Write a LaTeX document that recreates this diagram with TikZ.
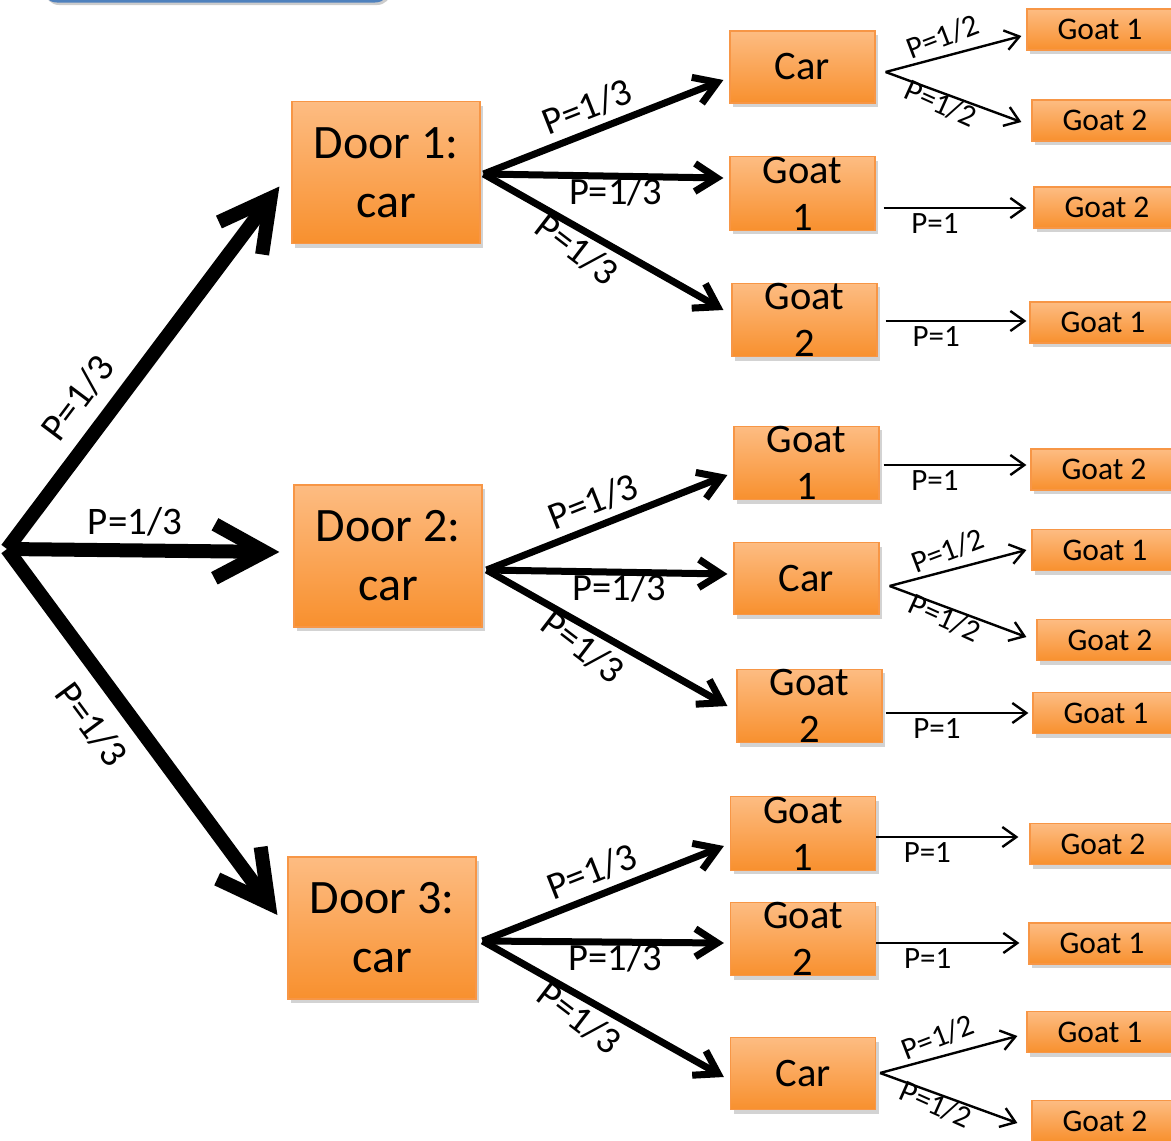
\documentclass[tikz,border=0pt]{standalone}
\usepackage{fontspec}
\setmainfont{Carlito}
\usetikzlibrary{arrows.meta,shadows,calc}
\definecolor{boxtop}{HTML}{FDBC82}
\definecolor{boxbot}{HTML}{F8902E}
\definecolor{boxline}{HTML}{F79646}
\definecolor{blueline}{HTML}{4F81BD}
\begin{document}
\begin{tikzpicture}[x=1pt,y=-1pt,
  box/.style={draw=boxline, line width=1.2pt, top color=boxtop, bottom color=boxbot,
    drop shadow={shadow xshift=3pt, shadow yshift=-4pt, opacity=0.35}, inner sep=0pt, align=center},
  door/.style={box, minimum width=188pt, minimum height=142pt, font=\fontsize{48}{59}\selectfont},
  mid/.style={box, minimum width=145pt, minimum height=72pt, font=\fontsize{40.5}{47}\selectfont},
  leaf/.style={box, minimum width=146pt, minimum height=41pt, font=\fontsize{31.5}{36}\selectfont},
  big/.style={line width=14pt, -{Straight Barb[length=50pt,width=54pt]}},
  med/.style={line width=7pt, -{Straight Barb[length=22pt,width=28pt]}},
  thin/.style={line width=2.4pt, -{Straight Barb[length=14pt,width=20pt]}},
  biglab/.style={font=\fontsize{39}{42}\selectfont, inner sep=2pt},
  medlab/.style={font=\fontsize{38.5}{42}\selectfont, inner sep=2pt},
  smlab/.style={font=\fontsize{31}{34}\selectfont, inner sep=2pt},
]
\useasboundingbox (0,0) rectangle (1171,1141);

% title shape, cut by the top edge
\node[draw=blueline, line width=3pt, rounded corners=14pt, fill=white,
  drop shadow={shadow xshift=2pt, shadow yshift=-4pt, opacity=0.4},
  minimum width=346pt, minimum height=80pt, inner sep=0pt] (title) at (216,-39) {};

% doors
\node[door] (d1) at (386,172.5) {Door 1:\\car};
\node[door] (d2) at (388,556) {Door 2:\\car};
\node[door] (d3) at (382,928) {Door 3:\\car};

% second level
\node[mid] (car1) at (802.5,67) {Car};
\node[mid] (g11) at (802.5,193.5) {Goat\\1};
\node[mid] (g12) at (804.5,320) {Goat\\2};
\node[mid] (g21) at (806.5,463) {Goat\\1};
\node[mid] (car2) at (806.5,578.5) {Car};
\node[mid] (g22) at (809.5,706) {Goat\\2};
\node[mid] (g31) at (803,833.5) {Goat\\1};
\node[mid] (g32) at (803,939) {Goat\\2};
\node[mid] (car3) at (803,1073.5) {Car};

% leaves
\node[leaf] (t1) at (1100,29.5) {Goat 1};
\node[leaf] (t2) at (1105,120.5) {Goat 2};
\node[leaf] (t3) at (1107,207.5) {Goat 2};
\node[leaf] (t4) at (1103,322.5) {Goat 1};
\node[leaf] (t5) at (1104,469.5) {Goat 2};
\node[leaf] (t6) at (1105,550) {Goat 1};
\node[leaf] (t7) at (1110,640) {Goat 2};
\node[leaf] (t8) at (1106,713) {Goat 1};
\node[leaf] (t9) at (1103,844) {Goat 2};
\node[leaf] (t10) at (1102,943.5) {Goat 1};
\node[leaf] (t11) at (1100,1032) {Goat 1};
\node[leaf] (t12) at (1105,1121) {Goat 2};

% root arrows
\coordinate (root) at (7,549);
\draw[big] (root) -- ($(d1.west)+(-12,14)$) node[biglab, sloped, above=11pt, pos=0.36] {P=1/3};
\draw[big] (root) -- ($(d2.west)+(-14,-4)$) node[biglab, above=5pt, pos=0.47] {P=1/3};
\draw[big] (root) -- ($(d3.west)+(-10,-13)$) node[biglab, sloped, below=13pt, pos=0.42] {P=1/3};

% door 1
\coordinate (o1) at ($(d1.east)+(3,1.5)$);
\draw[med] (o1) -- ($(car1.west)+(-6,13)$) node[medlab, sloped, above=5pt, pos=0.47] {P=1/3};
\draw[med] (o1) -- ($(g11.west)+(-6,-15.5)$) node[medlab, below=-4pt, pos=0.55] {P=1/3};
\draw[med] (o1) -- ($(g12.west)+(-8,-10)$) node[medlab, sloped, below=0pt, pos=0.44, rotate=-8] {P=1/3};

% door 2
\coordinate (o2) at ($(d2.east)+(4,14)$);
\draw[med] (o2) -- ($(g21.west)+(-6,12)$) node[medlab, sloped, above=5pt, pos=0.48] {P=1/3};
\draw[med] (o2) -- ($(car2.west)+(-6,-4.5)$) node[medlab, below=-4pt, pos=0.55] {P=1/3};
\draw[med] (o2) -- ($(g22.west)+(-9,0)$) node[medlab, sloped, below=0pt, pos=0.45, rotate=-8] {P=1/3};

% door 3
\coordinate (o3) at ($(d3.east)+(6,13)$);
\draw[med] (o3) -- ($(g31.west)+(-6,12.5)$) node[medlab, sloped, above=5pt, pos=0.49] {P=1/3};
\draw[med] (o3) -- ($(g32.west)+(-6,4)$) node[medlab, below=-4pt, pos=0.55] {P=1/3};
\draw[med] (o3) -- ($(car3.west)+(-6,3.5)$) node[medlab, sloped, below=0pt, pos=0.45, rotate=-8] {P=1/3};

% third level
\coordinate (c1) at ($(car1.east)+(10,5)$);
\draw[thin] (c1) -- ($(t1.west)+(-5,6.5)$) node[smlab, sloped, above=5pt, pos=0.47, rotate=6] {P=1/2};
\draw[thin] (c1) -- ($(t2.west)+(-10,1.5)$) node[smlab, sloped, below=-4pt, pos=0.44, rotate=-4] {P=1/2};
\draw[thin] ($(g11.east)+(8,14.5)$) -- ($(t3.west)+(-7,0.5)$) node[smlab, below=2pt, pos=0.36] {P=1};
\draw[thin] ($(g12.east)+(8,1)$) -- ($(t4.west)+(-3,-1.5)$) node[smlab, below=2pt, pos=0.36] {P=1};

\draw[thin] ($(g21.east)+(4,2)$) -- ($(t5.west)+(-4,-4.5)$) node[smlab, below=2pt, pos=0.36] {P=1};
\coordinate (c2) at ($(car2.east)+(10,7.5)$);
\draw[thin] (c2) -- ($(t6.west)+(-5,0)$) node[smlab, sloped, above=5pt, pos=0.47, rotate=6] {P=1/2};
\draw[thin] (c2) -- ($(t7.west)+(-10,-3)$) node[smlab, sloped, below=-4pt, pos=0.44, rotate=-4] {P=1/2};
\draw[thin] ($(g22.east)+(3,7)$) -- ($(t8.west)+(-4,0)$) node[smlab, below=2pt, pos=0.36] {P=1};

\draw[thin] ($(g31.east)+(0,3.5)$) -- ($(t9.west)+(-11,-7)$) node[smlab, below=2pt, pos=0.36] {P=1};
\draw[thin] ($(g32.east)+(0,4)$) -- ($(t10.west)+(-9,-0.5)$) node[smlab, below=2pt, pos=0.36] {P=1};
\coordinate (c3) at ($(car3.east)+(4,-0.5)$);
\draw[thin] (c3) -- ($(t11.west)+(-9,4)$) node[smlab, sloped, above=5pt, pos=0.47, rotate=6] {P=1/2};
\draw[thin] (c3) -- ($(t12.west)+(-14,2)$) node[smlab, sloped, below=-4pt, pos=0.44, rotate=-4] {P=1/2};
\end{tikzpicture}
\end{document}
